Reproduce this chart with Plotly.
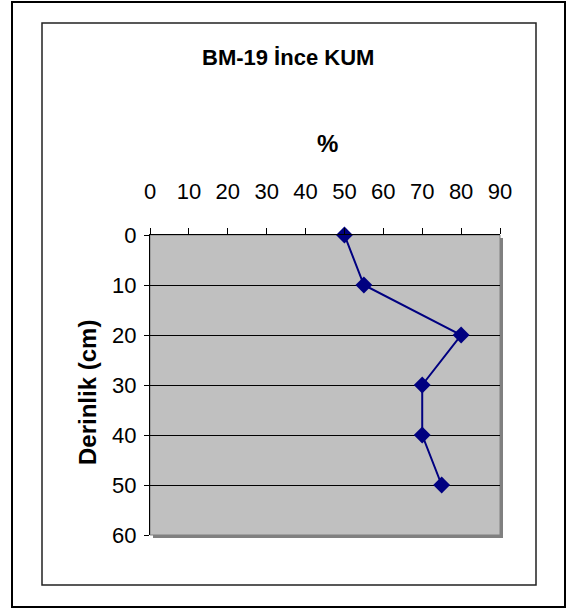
import plotly.graph_objects as go

# Data
depth_cm = [0, 10, 20, 30, 40, 50]
percent = [50, 55, 80, 70, 70, 75]
x_ticks = [0, 10, 20, 30, 40, 50, 60, 70, 80, 90]
y_ticks = [0, 10, 20, 30, 40, 50, 60]
title_text = "BM-19 İnce KUM"
x_title = "%"
y_title = "Derinlik (cm)"

W, H = 569, 612
L, R, T, B = 150, 500, 235, 535  # plot area in pixels


def px(x):
    return (x - L) / (R - L)


def py(y):
    return (B - y) / (B - T)


font = "Arial, Liberation Sans, sans-serif"

fig = go.Figure()
fig.add_trace(go.Scatter(
    x=percent, y=depth_cm, mode="lines+markers",
    line=dict(color="#000080", width=2),
    marker=dict(symbol="diamond", size=13, color="#000080"),
    showlegend=False, cliponaxis=False,
))

shapes = [
    # outer border
    dict(type="rect", xref="paper", yref="paper", x0=px(12), x1=px(565), y0=py(2), y1=py(607),
         line=dict(color="black", width=2), layer="below"),
    # inner border
    dict(type="rect", xref="paper", yref="paper", x0=px(42), x1=px(536), y0=py(23), y1=py(585),
         line=dict(color="#222222", width=1.5), layer="below"),
    # shadow
    dict(type="rect", xref="paper", yref="paper", x0=px(L + 3), x1=px(R + 3), y0=py(T + 3), y1=py(B + 3),
         fillcolor="#808080", line=dict(width=0), layer="below"),
    # plot area
    dict(type="rect", xref="paper", yref="paper", x0=0, x1=1, y0=0, y1=1,
         fillcolor="#c0c0c0", line=dict(color="#808080", width=1), layer="below"),
]

annotations = [
    dict(text="<b>" + title_text + "</b>", x=px(288), y=py(58), xref="paper", yref="paper",
         showarrow=False, font=dict(family=font, size=22, color="black"), xanchor="center", yanchor="middle"),
    dict(text="<b>" + x_title + "</b>", x=px(327), y=py(143), xref="paper", yref="paper",
         showarrow=False, font=dict(family=font, size=24, color="black"), xanchor="center", yanchor="middle"),
    dict(text="<b>" + y_title + "</b>", x=px(87), y=py(393), xref="paper", yref="paper",
         showarrow=False, textangle=-90, font=dict(family=font, size=24, color="black"),
         xanchor="center", yanchor="middle"),
]

fig.update_layout(
    width=W, height=H,
    margin=dict(l=L, r=W - R, t=T, b=H - B, pad=0),
    paper_bgcolor="white",
    plot_bgcolor="rgba(0,0,0,0)",
    shapes=shapes,
    annotations=annotations,
    font=dict(family=font, size=22, color="black"),
    xaxis=dict(
        range=[0, 90], side="top", tickvals=x_ticks, ticktext=[str(v) for v in x_ticks],
        showgrid=False, zeroline=False, showline=True, linecolor="black", linewidth=1,
        ticks="outside", ticklen=6, tickcolor="black", ticklabelstandoff=20,
        tickfont=dict(family=font, size=22, color="black"),
    ),
    yaxis=dict(
        range=[60, 0], tickvals=y_ticks, ticktext=[str(v) for v in y_ticks],
        showgrid=True, gridcolor="black", gridwidth=1, zeroline=False,
        showline=True, linecolor="black", linewidth=1,
        ticks="outside", ticklen=5, tickcolor="black", ticklabelstandoff=3,
        tickfont=dict(family=font, size=22, color="black"),
    ),
)

fig.write_html("out.html", config={"displayModeBar": False},
               post_script="document.body.style.margin='0';document.body.style.padding='0';")
